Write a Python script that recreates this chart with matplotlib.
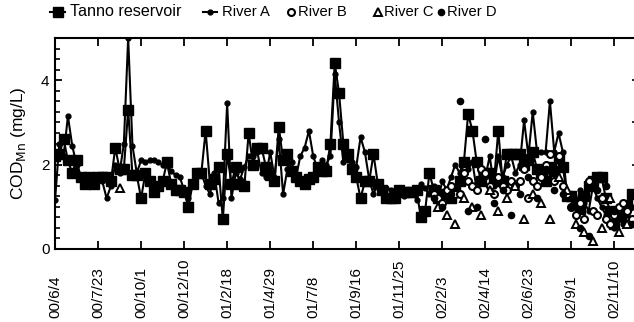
import numpy as np
import matplotlib
matplotlib.use('Agg')
import matplotlib.pyplot as plt
from matplotlib.lines import Line2D

plt.rcParams['font.family'] = ['Liberation Sans', 'DejaVu Sans']

date_labels = ['00/6/4', '00/7/23', '00/10/1', '00/12/10', '01/2/18', '01/4/29',
               '01/7/8', '01/9/16', '01/11/25', '02/2/3', '02/4/14', '02/6/23',
               '02/9/1', '02/11/10']

# Tanno reservoir, one value per sampling
tanno = [2.2, 2.25, 2.6, 2.1, 1.8, 2.1, 1.7, 1.55, 1.7, 1.55,
         1.7, 1.7, 1.7, 1.6, 2.4, 1.9, 1.9, 3.3, 1.75, 1.75,
         1.2, 1.8, 1.6, 1.35, 1.5, 1.6, 2.05, 1.55, 1.4, 1.4,
         1.35, 1.0, 1.55, 1.8, 1.8, 2.8, 1.55, 1.65, 1.95, 0.7,
         2.25, 1.55, 1.95, 1.55, 1.5, 2.75, 2.0, 2.4, 2.4, 1.95,
         1.75, 1.6, 2.9, 2.1, 2.25, 1.85, 1.7, 1.6, 1.55, 1.65,
         1.7, 1.95, 1.85, 1.85, 2.5, 4.4, 3.7, 2.5, 2.25, 1.9,
         1.7, 1.2, 1.6, 1.6, 2.25, 1.55, 1.4, 1.2, 1.2, 1.2,
         1.4, 1.35, 1.35, 1.35, 1.4, 0.75, 0.9, 1.8, 1.4, 1.2,
         1.3, 1.3, 1.2, 1.4, 1.6, 2.05, 3.2, 2.8, 2.05, 1.6,
         1.8, 1.8, 1.6, 2.8, 1.6, 2.25, 2.25, 2.25, 2.25, 2.0,
         2.1, 2.3, 1.9, 1.8, 1.6, 1.95, 1.85, 2.15, 1.95, 1.25,
         1.25, 1.1, 0.95, 1.25, 1.5, 1.6, 1.7, 1.7, 1.2, 0.9,
         0.6, 0.8, 0.95, 1.05, 1.3]

river_a = [1.15, 2.5, 2.2, 3.15, 2.45, 2.0, 1.7, 1.6, 1.6, 1.6,
           1.7, 1.6, 1.2, 1.5, 2.0, 1.8, 2.5, 5.0, 2.45, 1.8,
           2.1, 2.05, 2.1, 2.1, 2.05, 2.0, 2.0, 1.85, 1.75, 1.7,
           1.4, 1.2, 1.55, 1.75, 1.8, 1.5, 1.3, 1.8, 1.1, 1.2,
           3.45, 1.2, 1.8, 1.65, 1.95, 2.2, 2.2, 2.3, 1.8, 1.7,
           2.3, 1.7, 2.6, 1.3, 1.9, 2.05, 1.7, 2.2, 2.4, 2.8,
           2.2, 1.9, 2.1, 2.0, 2.2, 4.15, 3.0, 2.05, 2.1, 2.05,
           1.95, 2.65, 2.3, 1.65, 1.3, 1.55, 1.45, 1.45, 1.4, 1.4,
           1.35, 1.25, 1.4, 1.4, 1.15, 1.55, 1.45, 1.3, 1.5, 1.2,
           1.6, 1.4, 1.7, 2.0, 1.8, 2.1, 1.9, 2.05, 1.4, 1.9,
           1.7, 2.2, 1.5, 2.2, 1.7, 2.0, 2.2, 1.8, 2.0, 3.05,
           2.2, 3.25, 2.3, 2.3, 2.3, 3.5, 2.3, 2.75, 2.3, 1.25,
           1.3, 1.0, 1.4, 1.1, 0.9, 1.5, 1.2, 1.0, 0.8, 0.6,
           0.5, 0.7, 0.6, 0.8, 1.0]

b_idx = list(range(88, 135))
river_b = [1.3, 1.2, 1.1, 1.4, 1.5, 1.3, 1.3, 1.8, 1.6, 1.5,
           1.4, 1.9, 1.8, 1.5, 1.3, 1.7, 1.5, 1.4, 1.6, 1.5,
           1.6, 1.9, 1.2, 1.6, 1.5, 1.7, 2.0, 2.25, 1.6, 2.2,
           1.5, 1.3, 1.0, 0.8, 1.1, 0.7, 1.6, 0.9, 0.8, 1.2,
           0.7, 0.6, 0.8, 1.0, 1.1, 0.9, 0.7]

c_idx = [15] + list(range(89, 134, 2))
river_c = [1.45, 1.0, 0.8, 0.6, 1.2, 1.0, 0.8, 1.4, 0.9, 1.2, 1.5, 0.7, 1.3,
           1.1, 0.7, 1.7, 1.4, 0.6, 0.4, 0.2, 0.5, 1.2, 0.4, 0.6]

d_idx = list(range(88, 135, 2))
river_d = [1.2, 1.0, 1.3, 3.5, 0.9, 1.0, 2.6, 1.1, 1.4, 0.8, 1.3, 1.7,
           1.2, 1.9, 1.4, 1.3, 1.0, 0.5, 0.3, 1.4, 1.5, 0.9, 0.7, 0.6]

fig = plt.figure(figsize=(6.34, 3.22), dpi=100)
ax = fig.add_axes([55/634, 1-249/322, 581/634, 211/322])

ax.plot(np.arange(len(tanno)), tanno, '-', color='k', lw=1.5, marker='s', ms=6.5, zorder=3)
ax.plot(np.arange(len(river_a)), river_a, '-', color='k', lw=1.5, marker='o', ms=3.5, zorder=4)
ax.plot(b_idx, river_b, ls='none', marker='o', ms=5, mfc='white', mec='k', mew=1.5, zorder=5)
ax.plot(c_idx, river_c, ls='none', marker='^', ms=5.5, mfc='white', mec='k', mew=1.4, zorder=5)
ax.plot(d_idx, river_d, ls='none', marker='o', ms=4.5, mfc='k', mec='k', zorder=5)

ax.set_xlim(0, 135)
ax.set_ylim(0, 5)
ax.set_xticks(np.arange(0, 10*len(date_labels), 10))
ax.set_xticklabels(date_labels, rotation=90, va='bottom', fontsize=11)
ax.set_yticks([0, 2, 4])
ax.set_yticks(np.arange(0, 5.01, 0.25), minor=True)
ax.tick_params(axis='y', which='major', direction='in', length=5, width=1.3, labelsize=11, pad=4)
ax.tick_params(axis='y', which='minor', direction='in', length=3.5, width=1.2)
ax.tick_params(axis='x', which='major', direction='in', length=5.5, width=1.3, top=True, pad=49.5)
for s in ax.spines.values():
    s.set_linewidth(1.5)

sec = ax.secondary_yaxis('right')
sec.set_yticks([0, 1, 2, 3, 4, 5])
sec.tick_params(direction='in', length=3, width=1.2, labelright=False)

ax.set_ylabel('COD$_{\\mathrm{Mn}}$ (mg/L)', fontsize=12.5)
ax.yaxis.set_label_coords(-27/581, 0.5)

# legend drawn across the top
ly = 1 - 12/322
fig.add_artist(Line2D([50/634, 65/634], [ly, ly], color='k', lw=1.5))
fig.add_artist(Line2D([58/634], [ly], marker='s', ms=6.5, color='k', ls='none'))
fig.add_artist(Line2D([203/634, 217/634], [ly, ly], color='k', lw=1.5))
fig.add_artist(Line2D([210/634], [ly], marker='o', ms=3.5, color='k', ls='none'))
fig.add_artist(Line2D([291/634], [ly], marker='o', ms=5, mfc='white', mec='k', mew=1.5, ls='none'))
fig.add_artist(Line2D([378/634], [ly], marker='^', ms=5.5, mfc='white', mec='k', mew=1.4, ls='none'))
fig.add_artist(Line2D([441/634], [ly], marker='o', ms=4.5, color='k', ls='none'))
for name, px, fs in [('Tanno reservoir', 70, 11.6), ('River A', 222, 10.6),
                     ('River B', 298, 10.6), ('River C', 384, 10.6),
                     ('River D', 447, 10.6)]:
    fig.text(px/634, ly, name, fontsize=fs, va='center', ha='left')

fig.savefig('out.png', dpi=100)
